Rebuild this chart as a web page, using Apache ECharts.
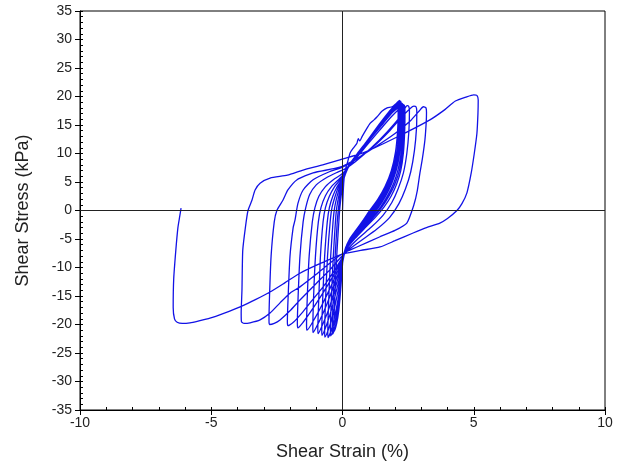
<!DOCTYPE html>
<html>
<head>
<meta charset="utf-8">
<script src="https://cdn.jsdelivr.net/npm/echarts@6/dist/echarts.min.js"></script>
<style>
html,body{margin:0;padding:0;background:#fff;}
#chart{width:625px;height:470px;}
</style>
</head>
<body>
<div id="chart"></div>
<script>
// Tick labels
const xTicks = [-10, -5, 0, 5, 10];
const yTicks = [-35, -30, -25, -20, -15, -10, -5, 0, 5, 10, 15, 20, 25, 30, 35];

// [shear strain %, shear stress kPa], in test order
const initialLoad = [[0,0],[0.02,2.5],[0.05,5],[0.1,7],[0.2,8.6],[0.29,10.1],[0.42,11.0],[0.55,11.8],[0.6,12.6],[0.66,12.2],[0.75,13.0],[0.9,14.2],[1.05,15.3],[1.2,15.9],[1.31,16.4],[1.5,17.4],[1.7,18.0],[1.89,18.2],[2.08,18.9],[2.19,19.0]];
const loop1 = [[2.21,17.5],[2.2,14.5],[2.12,10.5],[1.95,7],[1.72,4.2],[1.45,2],[1.15,0.2],[0.9,-1.5],[0.6,-3.2],[0.32,-4.8],[0.12,-6.5],[0.02,-8.5],[-0.03,-11.5],[-0.08,-14.5],[-0.14,-17.5],[-0.22,-19.8],[-0.32,-21.2],
  [-0.33,-20.5],[-0.29,-15],[-0.22,-8],[-0.14,-2],[-0.1,0.5],[-0.04,3],[0.03,5.1],[0.12,6.5],[0.3,8.2],[0.6,10.2],[1.0,12.5],[1.4,14.9],[1.75,16.9],[1.98,18.0],[2.10,18.6]];
const loop2 = [[2.12,17],[2.1,14],[2.02,10.3],[1.86,7],[1.62,4.2],[1.35,2],[1.05,0.1],[0.8,-1.6],[0.52,-3.4],[0.27,-5],[0.1,-6.8],[0.01,-8.8],[-0.04,-12],[-0.1,-15],[-0.18,-18],[-0.27,-20.3],[-0.38,-21.7],
  [-0.39,-20.9],[-0.35,-15],[-0.28,-8],[-0.2,-2],[-0.15,0.5],[-0.08,2.9],[0.0,4.9],[0.09,6.2],[0.26,8.0],[0.55,9.9],[0.95,12.3],[1.38,15],[1.75,17.2],[2.0,18.5],[2.14,19.1]];
const loop3 = [[2.16,17.5],[2.15,14.5],[2.08,10.5],[1.92,7.2],[1.7,4.5],[1.42,2.2],[1.12,0.3],[0.85,-1.5],[0.56,-3.3],[0.3,-5],[0.11,-6.8],[0.01,-8.8],[-0.05,-12],[-0.12,-15],[-0.22,-18],[-0.33,-20.4],[-0.45,-22.0],
  [-0.46,-21.2],[-0.42,-15],[-0.35,-8],[-0.27,-2],[-0.22,0.5],[-0.13,2.8],[-0.03,4.7],[0.06,6.0],[0.22,7.8],[0.5,9.6],[0.9,12.0],[1.35,14.8],[1.75,17.2],[2.02,18.6],[2.17,19.3]];
const loop4 = [[2.19,17.8],[2.18,14.8],[2.12,10.8],[1.97,7.4],[1.76,4.7],[1.5,2.4],[1.2,0.4],[0.92,-1.4],[0.6,-3.3],[0.32,-5],[0.12,-6.9],[0.01,-9],[-0.06,-12],[-0.15,-15],[-0.27,-18],[-0.4,-20.6],[-0.55,-22.3],
  [-0.56,-21.4],[-0.52,-15],[-0.45,-8],[-0.36,-2],[-0.3,0.5],[-0.2,2.6],[-0.08,4.5],[0.03,5.8],[0.18,7.5],[0.45,9.2],[0.85,11.6],[1.3,14.3],[1.72,16.8],[2.02,18.3],[2.20,19.0]];
const loop5 = [[2.22,17.5],[2.21,14.5],[2.15,10.5],[2.01,7.2],[1.8,4.6],[1.55,2.4],[1.25,0.4],[0.95,-1.4],[0.63,-3.3],[0.34,-5],[0.12,-6.9],[0.0,-9],[-0.08,-11.8],[-0.2,-14.8],[-0.34,-17.8],[-0.5,-20.4],[-0.67,-22.2],
  [-0.68,-21.3],[-0.64,-15],[-0.57,-8],[-0.47,-2],[-0.4,0.5],[-0.28,2.5],[-0.14,4.3],[0.0,5.6],[0.15,7.2],[0.4,8.8],[0.8,11.2],[1.25,13.9],[1.7,16.4],[2.05,18.1],[2.24,18.9]];
const loop6 = [[2.26,17.4],[2.25,14.4],[2.19,10.4],[2.05,7.1],[1.85,4.6],[1.6,2.4],[1.3,0.4],[1.0,-1.4],[0.66,-3.3],[0.36,-5],[0.13,-6.9],[0.0,-8.9],[-0.1,-11.5],[-0.25,-14.4],[-0.42,-17.4],[-0.6,-20],[-0.78,-21.9],
  [-0.79,-21],[-0.75,-15],[-0.68,-8],[-0.58,-2],[-0.5,0.5],[-0.37,2.5],[-0.2,4.2],[-0.02,5.5],[0.12,6.9],[0.35,8.5],[0.75,11],[1.2,13.8],[1.65,16.4],[2.0,18.3],[2.22,19.2]];
const loop7 = [[2.24,17.6],[2.23,14.6],[2.18,10.6],[2.06,7.3],[1.88,4.8],[1.65,2.6],[1.38,0.6],[1.07,-1.2],[0.72,-3.1],[0.4,-4.8],[0.15,-6.7],[0.0,-8.7],[-0.13,-11.2],[-0.3,-14],[-0.5,-17],[-0.72,-19.6],[-0.93,-21.6],
  [-0.94,-20.8],[-0.9,-15],[-0.84,-8],[-0.74,-2],[-0.65,0.5],[-0.5,2.5],[-0.3,4.2],[-0.08,5.4],[0.08,6.6],[0.3,8.2],[0.7,10.6],[1.15,13.3],[1.6,15.9],[2.0,17.8],[2.28,18.8]];
const loop8 = [[2.3,17.3],[2.29,14.3],[2.24,10.4],[2.12,7.2],[1.95,4.8],[1.72,2.6],[1.45,0.6],[1.13,-1.2],[0.77,-3.1],[0.43,-4.8],[0.16,-6.6],[0.0,-8.6],[-0.16,-11],[-0.37,-13.7],[-0.6,-16.5],[-0.86,-19.2],[-1.12,-21.4],
  [-1.13,-20.6],[-1.1,-15],[-1.03,-8],[-0.92,-2],[-0.82,0.5],[-0.65,2.6],[-0.42,4.2],[-0.15,5.4],[0.05,6.4],[0.25,7.8],[0.6,9.8],[1.05,12.5],[1.5,15],[1.9,17.2],[2.32,18.6]];
const loop9 = [[2.34,17.1],[2.33,14.1],[2.28,10.2],[2.17,7.1],[2.0,4.7],[1.78,2.6],[1.5,0.6],[1.18,-1.2],[0.8,-3.1],[0.45,-4.8],[0.17,-6.6],[0.0,-8.5],[-0.2,-10.8],[-0.45,-13.4],[-0.73,-16.1],[-1.04,-18.8],[-1.35,-21.0],
  [-1.37,-20.2],[-1.34,-15],[-1.27,-8],[-1.15,-2],[-1.05,0.5],[-0.9,2.5],[-0.65,4.2],[-0.35,5.4],[-0.05,6.3],[0.15,7.2],[0.45,8.8],[0.9,11.3],[1.4,14],[1.85,16.4],[2.2,18],[2.36,18.5]];
const loop10 = [[2.38,17],[2.37,14],[2.32,10.1],[2.22,7],[2.06,4.6],[1.85,2.5],[1.58,0.6],[1.25,-1.2],[0.85,-3.1],[0.48,-4.9],[0.18,-6.6],[0.0,-8.4],[-0.25,-10.6],[-0.55,-13],[-0.9,-15.6],[-1.25,-18],[-1.5,-19.6],[-1.70,-20.6],
  [-1.72,-19.8],[-1.69,-15],[-1.62,-8],[-1.5,-2],[-1.4,0.5],[-1.25,2.8],[-1.0,4.5],[-0.6,5.8],[-0.2,6.7],[0.1,7.3],[0.5,8.6],[1.1,11],[1.7,13.8],[2.15,16.2],[2.36,17.8],[2.46,18.4],[2.52,18.3]];
const loop11 = [[2.55,17.5],[2.53,14],[2.45,10],[2.32,6.6],[2.12,3.8],[1.88,1.4],[1.55,-0.8],[1.1,-2.9],[0.6,-4.9],[0.2,-6.8],[0.0,-8.2],[-0.35,-10.8],[-0.74,-13.4],[-1.2,-16],[-1.55,-18],[-1.85,-19.5],[-2.08,-20.2],
  [-2.1,-19.5],[-2.07,-15],[-2.0,-8],[-1.88,-3],[-1.81,-1.7],[-1.7,1.2],[-1.5,3.6],[-1.12,5.4],[-0.5,6.8],[0.0,7.6],[0.5,8.9],[1.2,11.3],[1.8,14],[2.3,16.6],[2.58,17.9],[2.72,18.3],[2.8,18.2]];
const loop12 = [[2.83,17.4],[2.82,14.5],[2.74,10.5],[2.6,6.8],[2.4,3.8],[2.15,1.2],[1.8,-1.2],[1.3,-3.3],[0.7,-5.3],[0.2,-7],[0.0,-7.9],[-0.5,-10.5],[-1.0,-12.8],[-1.62,-15.7],[-2.0,-17.6],[-2.38,-19.2],[-2.6,-19.8],[-2.78,-20.0],
  [-2.8,-19.3],[-2.78,-15],[-2.72,-8],[-2.6,-2],[-2.5,0],[-2.27,1.8],[-2.08,3.6],[-1.73,5.4],[-1.12,6.6],[-0.1,7.6],[0.5,9],[1.2,11],[2.0,13.5],[2.6,15.8],[2.93,17.5],[3.08,18.2],[3.18,18.0]];
const loop13 = [[3.2,17.2],[3.19,15.5],[3.14,12.4],[3.04,9],[2.95,6.6],[2.85,3.5],[2.72,1],[2.45,-2.2],[2.0,-3.5],[1.43,-4.6],[0.55,-6.4],[0.02,-7.5],[-0.5,-9.3],[-1.0,-11.2],[-1.62,-13.4],[-2.0,-14.5],[-2.38,-16.2],[-2.76,-18.0],[-3.14,-19.2],[-3.52,-19.7],[-3.75,-19.8],[-3.85,-19.5],
  [-3.86,-18],[-3.83,-14],[-3.8,-7],[-3.7,-3],[-3.6,0],[-3.45,1.8],[-3.33,3.6],[-3.14,4.8],[-2.76,5.7],[-2.1,6.2],[-1.5,7.1],[-0.75,8.0],[-0.1,8.9],[0.78,10.1],[2.08,12.9],[3.33,15.9],[3.9,17.7],[4.3,19.2],[4.7,19.9],[5.0,20.3],[5.12,20.2]];
const finalLoop = [[5.17,19.4],[5.16,17],[5.12,13.5],[5.02,10],[4.9,6.5],[4.74,3.1],[4.55,1.2],[4.36,0],[4.0,-1.4],[3.71,-2.2],[3.2,-3.0],[2.69,-3.95],[2.0,-5.3],[1.43,-6.4],[0.7,-7.0],[0.02,-7.6],[-0.8,-9.2],[-1.62,-11.0],[-2.2,-12.7],[-2.76,-14.3],[-3.3,-15.6],[-3.9,-16.9],[-4.5,-18.0],[-5.05,-18.9],[-5.5,-19.4],[-5.81,-19.7],[-6.1,-19.8],[-6.3,-19.6],[-6.4,-19.0],
  [-6.45,-17],[-6.43,-12],[-6.35,-7],[-6.27,-3],[-6.2,-1],[-6.15,0.4]];

const pathData = [].concat(initialLoad, loop1, loop2, loop3, loop4, loop5, loop6, loop7, loop8, loop9, loop10, loop11, loop12, loop13, finalLoop);

const font = 'Liberation Sans, Arial, sans-serif';
const axisColor = '#000';
const chart = echarts.init(document.getElementById('chart'), null, {renderer: 'canvas'});
chart.setOption({
  animation: false,
  backgroundColor: '#fff',
  textStyle: {fontFamily: font},
  grid: {left: 80, right: 20, top: 11, bottom: 60, show: true, borderColor: axisColor, borderWidth: 1, backgroundColor: 'transparent'},
  xAxis: [{
    type: 'value', min: xTicks[0], max: xTicks[xTicks.length - 1], interval: 5, position: 'bottom',
    name: 'Shear Strain (%)', nameLocation: 'middle', nameGap: 33,
    nameTextStyle: {fontSize: 18, color: '#222', fontFamily: font},
    axisLine: {show: true, onZero: false, lineStyle: {color: axisColor, width: 1}},
    axisTick: {show: true, inside: false, length: 5, lineStyle: {color: axisColor}},
    axisLabel: {fontSize: 14, color: '#222', margin: 6, fontFamily: font},
    splitLine: {show: false}
  }, {
    type: 'value', min: xTicks[0], max: xTicks[xTicks.length - 1], interval: 1, position: 'bottom', offset: 0,
    axisLine: {show: false, onZero: false},
    axisTick: {show: true, inside: true, length: 3, lineStyle: {color: axisColor}},
    axisLabel: {show: false}, splitLine: {show: false}
  }],
  yAxis: [{
    type: 'value', min: yTicks[0], max: yTicks[yTicks.length - 1], interval: 5, position: 'left',
    name: 'Shear Stress (kPa)', nameLocation: 'middle', nameGap: 48,
    nameTextStyle: {fontSize: 18, color: '#222', fontFamily: font},
    axisLine: {show: true, onZero: false, lineStyle: {color: axisColor, width: 1}},
    axisTick: {show: true, inside: false, length: 5, lineStyle: {color: axisColor}},
    axisLabel: {fontSize: 14, color: '#222', margin: 8, fontFamily: font},
    splitLine: {show: false}
  }, {
    type: 'value', min: yTicks[0], max: yTicks[yTicks.length - 1], interval: 1, position: 'left', offset: 0,
    axisLine: {show: false, onZero: false},
    axisTick: {show: true, inside: true, length: 3, lineStyle: {color: axisColor}},
    axisLabel: {show: false}, splitLine: {show: false}
  }],
  series: [{
    type: 'line',
    xAxisIndex: 0, yAxisIndex: 0,
    data: pathData,
    showSymbol: false,
    smooth: 0.2,
    lineStyle: {color: '#1212e6', width: 1.3},
    markLine: {
      silent: true, symbol: ['none', 'none'], label: {show: false},
      lineStyle: {color: '#222', width: 1, type: 'solid'},
      data: [{xAxis: 0}, {yAxis: 0}]
    },
    z: 3
  }]
});
</script>
</body>
</html>
